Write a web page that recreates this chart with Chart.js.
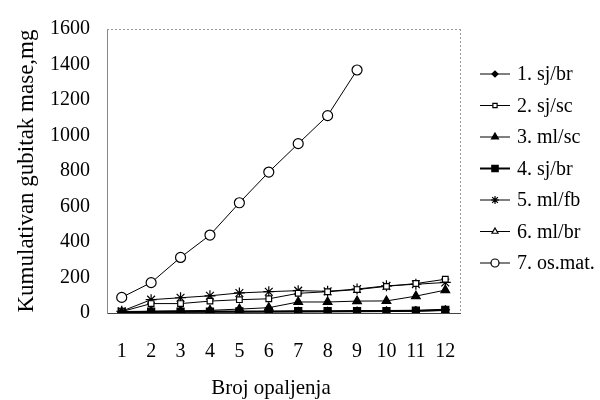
<!DOCTYPE html>
<html>
<head>
<meta charset="utf-8">
<script src="https://cdn.jsdelivr.net/npm/chart.js@4.4.0/dist/chart.umd.min.js"></script>
<style>
    html, body { margin: 0; padding: 0; background: #fff; }
    #wrap { width: 600px; height: 400px; }
</style>
</head>
<body>
<div id="wrap"><canvas id="lossChart" width="600" height="400"></canvas></div>
<script>
const firings = ['1', '2', '3', '4', '5', '6', '7', '8', '9', '10', '11', '12'];
const seriesNames = ['1. sj/br', '2. sj/sc', '3. ml/sc', '4. sj/br', '5. ml/fb', '6. ml/br', '7. os.mat.'];
const sjbr1 = [4, 5, 6, 7, 8, 9, 10, 10, 11, 12, 13, 18];
const sjsc = [8, 53, 53, 67, 75, 80, 111, 120, 132, 150, 166, 190];
const mlsc = [5, 10, 12, 15, 22, 30, 62, 62, 67, 68, 95, 129];
const sjbr4 = [6, 7, 8, 8, 9, 9, 10, 10, 11, 11, 13, 18];
const mlfb = [10, 75, 86, 97, 113, 120, 126, 122, 135, 153, 162, 172];
const mlbr = [3, 4, 4, 5, 5, 6, 6, 7, 7, 8, 10, 14];
const osmat = [88, 171, 313, 439, 621, 794, 954, 1112, 1369];
const yTicks = [0, 200, 400, 600, 800, 1000, 1200, 1400, 1600];

const serif = "'Liberation Serif', 'Times New Roman', serif";

function makeSet(label, data, style, radius, filled, lineWidth) {
    return {
        label: label,
        data: data,
        borderColor: '#000',
        borderWidth: lineWidth,
        pointStyle: style,
        pointRadius: radius,
        pointHoverRadius: radius,
        pointBorderColor: '#000',
        pointBorderWidth: 1.2,
        pointBackgroundColor: filled ? '#000' : '#fff',
        tension: 0,
        fill: false
    };
}

const legendSizes = [3, 3, 4, 4.5, 4, 3.5, 4];

// frame, x title and legend drawn on top of the chart
const extrasPlugin = {
    id: 'extras',
    afterDraw(chart) {
        const ctx = chart.ctx;
        const area = chart.chartArea;
        ctx.save();
        ctx.strokeStyle = '#999';
        ctx.lineWidth = 1;
        ctx.setLineDash([2, 2]);
        ctx.beginPath();
        ctx.moveTo(area.left, area.top + 0.5);
        ctx.lineTo(area.right, area.top + 0.5);
        ctx.moveTo(area.right + 0.5, area.top);
        ctx.lineTo(area.right + 0.5, area.bottom);
        ctx.stroke();
        ctx.setLineDash([]);

        ctx.fillStyle = '#000';
        ctx.font = '21px ' + serif;
        ctx.textAlign = 'center';
        ctx.textBaseline = 'middle';
        ctx.fillText('Broj opaljenja', 271, 388);

        ctx.font = '20px ' + serif;
        ctx.textAlign = 'left';
        chart.data.datasets.forEach(function (ds, i) {
            const y = 74 + i * 31.5;
            ctx.strokeStyle = '#000';
            ctx.lineWidth = ds.borderWidth;
            ctx.beginPath();
            ctx.moveTo(480, y);
            ctx.lineTo(510, y);
            ctx.stroke();
            ctx.fillStyle = ds.pointBackgroundColor;
            ctx.strokeStyle = '#000';
            ctx.lineWidth = 1.2;
            Chart.helpers.drawPoint(ctx, {
                pointStyle: ds.pointStyle,
                radius: legendSizes[i],
                rotation: 0,
                borderWidth: 1.2
            }, 495, y);
            ctx.fillStyle = '#000';
            ctx.fillText(ds.label, 517, y + 1);
        });
        ctx.restore();
    }
};

new Chart(document.getElementById('lossChart'), {
    type: 'line',
    data: {
        labels: firings,
        datasets: [
            makeSet(seriesNames[0], sjbr1, 'rectRot', 4, true, 1),
            makeSet(seriesNames[1], sjsc, 'rect', 4, false, 1),
            makeSet(seriesNames[2], mlsc, 'triangle', 5, true, 1),
            makeSet(seriesNames[3], sjbr4, 'rect', 5, true, 2),
            makeSet(seriesNames[4], mlfb, 'star', 5.5, false, 1),
            makeSet(seriesNames[5], mlbr, 'triangle', 4, false, 1),
            makeSet(seriesNames[6], osmat, 'circle', 5, false, 1)
        ]
    },
    options: {
        responsive: false,
        devicePixelRatio: 1,
        animation: false,
        layout: {
            padding: { top: 20, right: 140, bottom: 0, left: 0 }
        },
        plugins: {
            legend: { display: false },
            tooltip: { enabled: false }
        },
        scales: {
            x: {
                offset: true,
                grid: { display: false, drawTicks: false },
                border: { display: true, color: '#444', width: 1 },
                ticks: {
                    color: '#000',
                    padding: 27,
                    maxRotation: 0,
                    autoSkip: false,
                    font: { family: serif, size: 20 }
                },
                afterFit: function (scale) {
                    scale.height = 87;
                }
            },
            y: {
                min: 0,
                max: 1600,
                afterBuildTicks: function (scale) {
                    scale.ticks = yTicks.map(v => ({ value: v }));
                },
                grid: { display: false, drawTicks: false },
                border: { display: true, color: '#888', width: 1 },
                ticks: {
                    color: '#000',
                    padding: 17,
                    font: { family: serif, size: 20 },
                    callback: function (value) {
                        return String(value);
                    }
                },
                title: {
                    display: true,
                    text: 'Kumulativan gubitak mase,mg',
                    color: '#000',
                    padding: { top: 13, bottom: 0 },
                    font: { family: serif, size: 23 }
                },
                afterFit: function (scale) {
                    scale.width = 107;
                }
            }
        }
    },
    plugins: [extrasPlugin]
});
</script>
</body>
</html>
